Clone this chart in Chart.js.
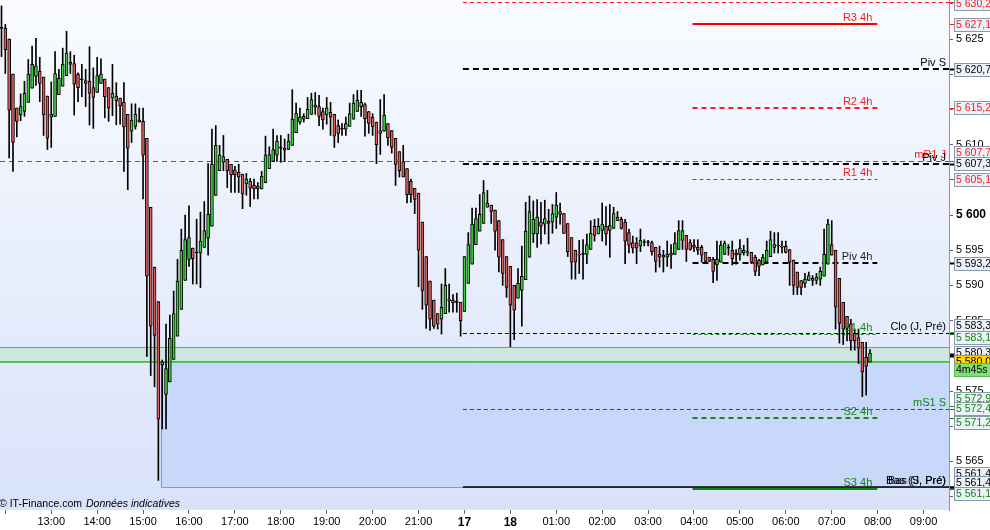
<!DOCTYPE html>
<html>
<head>
<meta charset="utf-8">
<script src="https://cdn.jsdelivr.net/npm/chart.js@4.4.1/dist/chart.umd.min.js"></script>
<style>
html, body { margin: 0; padding: 0; background: #fff; }
#wrap { width: 990px; height: 530px; position: relative; }
</style>
</head>
<body>
<div id="wrap"><canvas id="chartBougies"></canvas></div>
<script>
// bougies 5 minutes
const openP = [5626.5,5626.5,5625.0,5620.0,5615.2,5614.2,5614.7,5616.0,5618.0,5619.7,5620.4,5619.6,5616.9,5613.9,5614.0,5617.1,5618.3,5619.8,5621.7,5621.5,
5620.0,5619.2,5619.1,5619.0,5618.1,5617.4,5618.7,5619.3,5618.1,5616.6,5616.9,5616.6,5616.0,5614.3,5611.9,5612.6,5613.5,5613.3,5610.9,5601.1,
5592.6,5587.7,5578.7,5574.5,5576.3,5579.5,5582.8,5586.6,5590.7,5593.7,5595.3,5594.6,5594.6,5595.4,5596.7,5598.4,5602.8,5606.3,5607.5,5607.9,
5607.2,5606.4,5606.1,5605.8,5604.4,5604.8,5604.2,5604.1,5603.7,5604.6,5606.6,5607.6,5608.5,5609.5,5609.5,5609.3,5609.9,5611.7,5613.2,5613.6,
5613.7,5614.3,5615.3,5615.4,5614.7,5614.2,5614.6,5614.3,5612.7,5612.2,5612.2,5612.6,5613.6,5614.7,5615.4,5615.7,5614.7,5613.9,5613.2,5611.6,
5611.9,5613.0,5612.0,5610.9,5609.0,5607.6,5606.6,5604.8,5603.8,5603.1,5599.0,5594.1,5590.6,5587.9,5586.0,5585.2,5586.0,5588.0,5587.9,5587.6,
5587.6,5586.3,5590.3,5593.0,5595.8,5597.7,5598.8,5601.1,5601.4,5600.7,5599.2,5596.5,5594.1,5592.7,5590.0,5588.2,5589.3,5590.8,5594.0,5597.3,
5597.3,5599.0,5598.7,5599.1,5599.0,5599.7,5600.5,5600.2,5598.8,5596.8,5595.0,5594.4,5594.4,5594.4,5595.1,5598.4,5597.3,5597.8,5598.4,5597.8,
5598.1,5599.7,5599.4,5599.0,5597.5,5596.1,5596.0,5595.6,5596.1,5596.1,5596.1,5595.4,5594.4,5594.3,5594.0,5594.3,5594.4,5595.1,5596.4,5597.1,
5596.1,5595.7,5595.4,5595.4,5594.7,5594.0,5593.7,5592.9,5593.3,5594.4,5595.3,5595.0,5594.6,5594.4,5594.6,5594.6,5594.7,5594.0,5593.6,5592.9,
5593.3,5594.1,5595.4,5595.7,5595.6,5595.6,5595.1,5593.6,5591.9,5590.7,5590.3,5590.7,5591.0,5590.7,5590.9,5591.3,5593.0,5595.8,5595.0,5591.0,
5587.6,5585.6,5584.5,5583.2,5582.6,5581.9,5579.8,5579.1];
const highP = [5629.7,5627.1,5625.0,5620.0,5615.2,5617.2,5619.0,5622.1,5624.0,5625.1,5622.4,5619.6,5616.9,5618.9,5623.2,5620.7,5623.7,5626.1,5623.2,5622.7,
5620.2,5621.4,5620.7,5623.9,5620.9,5622.4,5622.2,5619.3,5618.1,5621.4,5618.8,5616.6,5618.8,5614.3,5615.8,5615.8,5615.2,5615.2,5610.9,5601.1,
5592.6,5587.7,5579.4,5584.5,5585.8,5589.2,5593.7,5598.0,5600.0,5601.3,5595.3,5599.4,5600.4,5601.9,5607.3,5612.2,5612.7,5609.9,5611.3,5607.9,
5607.2,5606.9,5607.2,5605.8,5605.9,5605.2,5605.1,5604.6,5606.2,5611.2,5609.7,5612.2,5611.3,5611.3,5610.8,5611.5,5617.8,5615.9,5615.2,5614.4,
5616.7,5617.3,5617.4,5617.0,5615.2,5616.7,5616.0,5614.3,5613.5,5613.0,5613.9,5615.9,5617.1,5617.7,5617.7,5615.9,5614.7,5614.4,5613.2,5616.4,
5617.1,5613.0,5612.0,5610.9,5609.0,5609.9,5606.6,5605.1,5603.8,5603.1,5599.0,5594.1,5590.6,5587.9,5586.0,5590.2,5592.4,5590.2,5588.7,5588.9,
5587.6,5594.1,5597.5,5601.0,5601.0,5602.9,5604.9,5603.5,5601.4,5600.7,5599.2,5596.5,5594.1,5592.7,5590.0,5592.4,5595.6,5601.8,5602.7,5602.0,
5602.2,5601.8,5602.1,5600.8,5601.5,5603.2,5601.7,5600.2,5598.8,5596.8,5595.0,5596.4,5596.5,5597.3,5599.2,5599.4,5599.5,5601.7,5601.2,5601.5,
5601.1,5600.5,5599.7,5599.4,5598.0,5597.0,5596.8,5598.0,5596.5,5596.4,5596.3,5595.4,5595.6,5595.0,5596.3,5595.8,5597.5,5599.2,5599.2,5597.1,
5596.5,5596.5,5596.5,5595.7,5594.7,5594.0,5594.0,5596.3,5596.3,5596.3,5595.8,5596.3,5595.1,5596.5,5595.7,5596.7,5594.7,5594.3,5593.7,5594.4,
5596.3,5597.7,5597.5,5597.5,5596.3,5596.3,5595.1,5593.6,5591.9,5590.7,5591.7,5591.9,5591.4,5591.7,5592.6,5598.0,5599.4,5599.2,5595.0,5591.0,
5587.6,5585.6,5585.2,5583.8,5583.8,5581.9,5581.9,5580.9];
const lowP = [5622.5,5620.1,5608.1,5606.2,5611.1,5613.4,5614.0,5616.0,5618.0,5618.4,5616.1,5611.3,5609.3,5609.6,5614.0,5617.1,5618.3,5619.8,5620.1,5614.2,
5616.1,5616.8,5615.4,5612.8,5612.3,5617.4,5618.7,5613.8,5613.3,5614.1,5612.8,5612.9,5606.2,5603.6,5610.3,5612.2,5613.2,5602.3,5579.9,5577.2,
5575.6,5562.3,5569.6,5569.6,5576.3,5579.5,5582.8,5586.6,5590.7,5592.7,5590.2,5590.2,5589.7,5595.4,5594.3,5598.4,5602.8,5606.3,5606.3,5603.9,
5603.2,5603.2,5603.2,5600.9,5602.8,5601.2,5602.3,5602.3,5603.7,5604.6,5606.6,5607.6,5607.6,5607.5,5607.6,5609.3,5609.9,5611.7,5612.9,5613.2,
5613.7,5614.3,5614.3,5612.7,5612.2,5612.9,5611.3,5609.6,5610.3,5611.3,5611.3,5612.6,5613.6,5614.7,5614.0,5611.2,5611.6,5611.3,5607.3,5608.6,
5611.9,5609.9,5608.8,5604.2,5605.4,5605.4,5601.7,5601.8,5600.2,5589.8,5586.6,5583.9,5583.6,5583.9,5583.8,5583.1,5586.0,5586.2,5586.2,5586.2,
5582.8,5586.3,5590.3,5593.0,5595.8,5597.7,5598.8,5601.1,5598.8,5595.0,5591.9,5590.0,5588.3,5581.3,5582.3,5588.2,5584.2,5590.8,5594.0,5596.1,
5595.4,5595.9,5597.3,5595.9,5597.4,5598.1,5598.7,5597.4,5594.1,5590.9,5590.9,5591.7,5590.9,5593.1,5595.1,5596.3,5597.3,5596.3,5595.7,5594.0,
5598.1,5599.2,5598.0,5593.1,5594.6,5594.6,5593.1,5594.8,5595.6,5595.6,5594.3,5591.9,5592.6,5591.9,5592.7,5592.4,5594.4,5595.1,5595.1,5593.4,
5595.0,5594.8,5594.4,5593.3,5593.1,5593.4,5590.4,5590.7,5593.3,5594.4,5594.3,5592.9,5593.0,5593.6,5594.3,5594.2,5593.1,5591.4,5591.4,5592.9,
5593.3,5594.1,5594.6,5594.6,5594.6,5594.6,5590.0,5588.7,5588.7,5588.7,5589.7,5590.7,5590.0,5590.2,5590.0,5591.3,5593.0,5594.3,5583.8,5581.8,
5581.6,5582.1,5580.8,5580.8,5578.9,5574.2,5574.4,5579.1];
const closeP = [5626.5,5623.5,5614.9,5610.3,5613.3,5615.4,5617.3,5620.0,5621.4,5621.2,5618.7,5614.2,5610.9,5614.3,5620.1,5619.4,5621.4,5623.0,5621.4,5618.6,
5618.1,5619.2,5618.7,5617.3,5616.7,5619.8,5620.0,5616.8,5615.2,5617.3,5616.2,5615.5,5612.5,5609.5,5613.5,5614.3,5613.2,5608.5,5591.3,5584.2,
5582.9,5571.0,5579.1,5578.2,5582.5,5586.0,5590.6,5595.0,5596.5,5596.8,5593.8,5594.6,5596.3,5597.8,5600.1,5607.2,5609.9,5608.5,5608.3,5606.3,
5605.7,5605.7,5605.4,5603.0,5605.1,5603.8,5603.7,5603.7,5605.5,5608.5,5608.6,5609.3,5610.5,5609.5,5609.2,5610.5,5613.6,5614.4,5613.9,5614.0,
5615.0,5616.4,5615.6,5614.0,5613.5,5615.2,5613.9,5611.2,5611.6,5612.2,5613.0,5614.4,5615.9,5616.3,5616.0,5613.7,5613.0,5612.5,5610.0,5612.0,
5614.2,5611.0,5609.6,5607.2,5606.3,5605.4,5602.9,5602.9,5602.2,5595.0,5589.3,5587.2,5585.2,5584.2,5584.5,5586.9,5590.0,5587.8,5587.5,5587.6,
5585.0,5594.1,5595.8,5598.7,5599.5,5600.1,5603.2,5601.7,5600.5,5597.7,5594.0,5591.7,5589.7,5587.2,5586.5,5590.3,5591.3,5597.7,5600.5,5599.4,
5599.7,5598.4,5599.5,5598.8,5600.2,5601.4,5600.1,5597.4,5594.8,5593.3,5593.3,5594.3,5594.4,5595.8,5597.4,5597.1,5598.4,5598.7,5597.3,5598.5,
5600.2,5599.2,5598.1,5596.3,5595.7,5595.3,5595.3,5596.4,5596.1,5596.1,5594.8,5593.4,5594.0,5594.0,5594.4,5594.6,5596.0,5597.8,5597.8,5595.1,
5595.1,5595.4,5595.0,5594.3,5593.4,5593.4,5592.0,5593.7,5595.7,5596.0,5595.3,5593.8,5594.3,5595.3,5595.0,5594.8,5593.3,5592.0,5592.7,5594.0,
5595.0,5596.5,5595.8,5595.6,5595.4,5594.7,5593.3,5590.0,5589.7,5589.7,5590.9,5591.4,5590.7,5591.2,5592.0,5594.4,5598.7,5594.3,5586.9,5584.6,
5583.8,5583.9,5582.1,5582.1,5581.1,5577.7,5578.5,5580.4];

// axe du temps : position (n° de bougie) des graduations horaires
const hourTickIdx = [1,13,25,37,49,61,73,85,97,109,121,133,145,157,169,181,193,205,217,229,241];
const hourLabels = ["","13:00","14:00","15:00","16:00","17:00","18:00","19:00","20:00","21:00","17","18",
                    "01:00","02:00","03:00","04:00","05:00","06:00","07:00","08:00","09:00"];

// niveaux (pivots, supports, résistances)
const levelNames  = ["","R3 4h","Piv S","R2 4h","mR1 J","Piv J","R1 4h","Piv 4h","Clo (J, Pré)","S1 4h","mS1 S","S2 4h","Bas (J, Pré)","S3 4h"];
const levelValues = [5630.2,5627.1,5620.7,5615.2,5607.7,5607.3,5605.1,5593.2,5583.3,5583.1,5572.4,5571.2,5561.4,5561.1];
const levelSpans  = ["J","4h","J","4h","all","J","4h","4h","J","4h","J","4h","J","4h"];

// zone verte et zone bleue
const bandHigh = 5581.2, bandLow = 5579.3;
const zoneHigh = 5579.3, zoneLow = 5561.4, zoneStartIdx = 41.6;

// étiquettes de l'axe de droite
const boxTexts  = ["5 630,2","5 627,1","5 620,7","5 615,2","5 607,7","5 607,3","5 605,1","5 593,2","5 583,3","5 583,1",
                   "5 580,3","5 580,0","4m45s","5 572,9","5 572,4","5 571,2","5 561,4","5 561,4","5 561,1"];
const boxLevels = [5630.2,5627.1,5620.7,5615.2,5607.7,5607.3,5605.1,5593.2,5583.3,5583.1,
                   5580.3,5580.0,5580.0,5572.9,5572.4,5571.2,5561.4,5561.4,5561.1];

// mise en forme (hors données)
const RED = "#ff1a1a", GREEN = "#0b8a0b", BLACK = "#000";
const levelStyles = [
    { color: RED, width: 1, dash: [4, 3], text: RED },
    { color: "#ff0000", width: 2, dash: [], text: RED },
    { color: BLACK, width: 2, dash: [6, 4], text: BLACK },
    { color: RED, width: 2, dash: [5, 4], text: RED },
    { color: "#e02020", width: 1, dash: [5, 4], text: RED },
    { color: BLACK, width: 2, dash: [6, 4], text: BLACK },
    { color: RED, width: 1, dash: [4, 3], text: RED },
    { color: BLACK, width: 2, dash: [6, 4], text: "#1a1a2a" },
    { color: BLACK, width: 1, dash: [4, 3], text: BLACK },
    { color: GREEN, width: 1, dash: [3, 3], text: GREEN },
    { color: "#444", width: 1, dash: [4, 3], text: GREEN },
    { color: GREEN, width: 2, dash: [5, 4], text: GREEN },
    { color: BLACK, width: 1.5, dash: [], text: BLACK },
    { color: GREEN, width: 2, dash: [], text: GREEN },
];
const boxShift = [1.6, 1, 0.7, 0, -7.5, 0, 1, 1, -6.7, 4, -1, 6, 14, -7, 0, 5, -13, -4, 5];
const boxTextColor = [RED, RED, BLACK, RED, RED, BLACK, RED, BLACK, BLACK, GREEN, BLACK, BLACK, BLACK, GREEN, GREEN, GREEN, BLACK, BLACK, GREEN];
const boxFill = (t, i) => (i === 11 ? "#ffd500" : t === "4m45s" ? "#84de78" : "#edf1f8");

const FONT = "'Liberation Sans', Arial, sans-serif";
const spanStart = { J: 120.6, "4h": 180.6, all: -5 };
const spanEnd = { J: 999, "4h": 228.9, all: 999 };

const bodies = closeP.map((c, i) => ({ x: i, y: [openP[i], c] }));
const wicks = closeP.map((c, i) => ({ x: i, y: [lowP[i], highP[i]] }));
const bodyColors = closeP.map((c, i) => (c > openP[i] ? "#3cd23c" : c < openP[i] ? "#e05c5c" : "#000"));

function fmtPrix(v) {
    const mille = Math.floor(v / 1000);
    return mille + " " + String(Math.round(v - mille * 1000)).padStart(3, "0");
}

const decorPlugin = {
    id: "decor",
    beforeDraw(chart) {
        const { ctx, chartArea: a } = chart;
        ctx.save();
        ctx.fillStyle = "#fff";
        ctx.fillRect(0, 0, chart.width, chart.height);
        const g = ctx.createLinearGradient(0, a.top, 0, a.bottom);
        g.addColorStop(0, "#f9fbff");
        g.addColorStop(1, "#d8e2f9");
        ctx.fillStyle = g;
        ctx.fillRect(a.left, a.top, a.right - a.left, a.bottom - a.top);
        ctx.restore();
    },
    beforeDatasetsDraw(chart) {
        const { ctx, chartArea: a, scales } = chart;
        const y = (v) => scales.y.getPixelForValue(v);
        const x = (i) => Math.max(a.left, Math.min(a.right, scales.x.getPixelForValue(i)));
        ctx.save();
        ctx.beginPath();
        ctx.rect(a.left, a.top, a.right - a.left, a.bottom - a.top);
        ctx.clip();

        // bande verte
        ctx.fillStyle = "#cbe7de";
        ctx.fillRect(a.left, y(bandHigh), a.right - a.left, y(bandLow) - y(bandHigh));
        ctx.lineWidth = 1;
        ctx.strokeStyle = "#e06a6a";
        ctx.beginPath();
        ctx.moveTo(a.left, Math.round(y(bandHigh)) + 0.5);
        ctx.lineTo(a.right, Math.round(y(bandHigh)) + 0.5);
        ctx.stroke();

        // zone bleue
        const zx = x(zoneStartIdx);
        ctx.fillStyle = "#c7d8fb";
        ctx.fillRect(zx, y(zoneHigh), a.right - zx, y(zoneLow) - y(zoneHigh));
        ctx.strokeStyle = "#6b9af0";
        ctx.strokeRect(Math.round(zx) + 0.5, Math.round(y(zoneHigh)) + 0.5, a.right - zx, Math.round(y(zoneLow) - y(zoneHigh)));
        ctx.strokeStyle = "#5fc85f";
        ctx.beginPath();
        ctx.moveTo(a.left, Math.round(y(bandLow)) + 1.5);
        ctx.lineTo(a.right, Math.round(y(bandLow)) + 1.5);
        ctx.stroke();
        ctx.strokeStyle = "#5b8ff0";
        ctx.beginPath();
        ctx.moveTo(a.left, Math.round(y(bandLow)) + 0.5);
        ctx.lineTo(a.right, Math.round(y(bandLow)) + 0.5);
        ctx.stroke();

        // niveaux
        levelValues.forEach((v, k) => {
            const st = levelStyles[k];
            const py = st.width === 1 ? Math.round(y(v)) + 0.5 : Math.round(y(v));
            ctx.strokeStyle = st.color;
            ctx.lineWidth = st.width;
            ctx.setLineDash(st.dash);
            ctx.beginPath();
            ctx.moveTo(x(spanStart[levelSpans[k]]), py);
            ctx.lineTo(x(spanEnd[levelSpans[k]]), py);
            ctx.stroke();
        });
        ctx.restore();
    },
    afterDatasetsDraw(chart) {
        const { ctx, chartArea: a, scales } = chart;
        const y = (v) => scales.y.getPixelForValue(v);
        const x = (i) => Math.max(a.left, Math.min(a.right, scales.x.getPixelForValue(i)));
        ctx.save();
        ctx.font = "11px " + FONT;
        ctx.textAlign = "right";
        ctx.textBaseline = "alphabetic";
        levelValues.forEach((v, k) => {
            if (!levelNames[k]) return;
            const xr = levelSpans[k] === "4h" ? x(spanEnd["4h"]) - 5 : a.right - 3;
            ctx.fillStyle = levelStyles[k].text;
            ctx.fillText(levelNames[k], xr, y(v) - 3);
        });
        // texte superposé du graphique d'origine
        ctx.fillStyle = BLACK;
        ctx.fillText("Bas (S, Pré)", a.right - 3, y(5561.4) - 3);

        // pied de graphique
        ctx.textAlign = "left";
        ctx.fillStyle = "#000";
        ctx.font = "10.5px " + FONT;
        ctx.fillText("© IT-Finance.com", -1, a.bottom - 3);
        ctx.font = "italic 10.5px " + FONT;
        ctx.fillText("Données indicatives", 86, a.bottom - 3);
        ctx.restore();
    },
    afterDraw(chart) {
        const { ctx, chartArea: a, scales } = chart;
        const y = (v) => scales.y.getPixelForValue(v);
        ctx.save();
        ctx.font = "10.5px " + FONT;
        ctx.textBaseline = "middle";
        ctx.textAlign = "left";
        boxTexts.forEach((t, i) => {
            const ly = y(boxLevels[i]);
            const cy = Math.round(ly + boxShift[i]);
            if (t !== "4m45s") {
                ctx.strokeStyle = boxTextColor[i];
                ctx.lineWidth = boxTextColor[i] === BLACK ? 2 : 1;
                ctx.beginPath();
                ctx.moveTo(a.right + 1, Math.round(ly) + 0.5);
                ctx.lineTo(a.right + 6, Math.round(ly) + 0.5);
                ctx.stroke();
            }
            ctx.fillStyle = boxFill(t, i);
            ctx.fillRect(a.right + 5, cy - 7, 50, 14);
            ctx.lineWidth = 1;
            ctx.strokeStyle = t === "4m45s" ? "#5cb85c" : "#8a98ab";
            ctx.strokeRect(a.right + 5.5, cy - 6.5, 50, 13);
            ctx.fillStyle = t === "4m45s" ? BLACK : boxTextColor[i];
            ctx.fillText(t, a.right + 7, cy + 0.5);
        });
        ctx.restore();
    },
};

const ctxBougies = document.getElementById("chartBougies");

const configBougies = {
    type: "bar",
    data: {
        datasets: [
            {
                label: "corps",
                data: bodies,
                backgroundColor: bodyColors,
                borderColor: "#000",
                borderWidth: 1,
                borderSkipped: false,
                barThickness: 3,
                minBarLength: 1,
                grouped: false,
                order: 0,
            },
            {
                label: "mèches",
                data: wicks,
                backgroundColor: "#000",
                borderWidth: 0,
                barThickness: 1,
                grouped: false,
                order: 1,
            },
        ],
    },
    options: {
        responsive: true,
        maintainAspectRatio: false,
        animation: false,
        events: [],
        layout: { padding: 0 },
        plugins: { legend: { display: false }, tooltip: { enabled: false } },
        scales: {
            x: {
                type: "linear",
                offset: false,
                min: -0.392,
                max: 247.65,
                afterBuildTicks: (scale) => {
                    scale.ticks = hourTickIdx.map((v) => ({ value: v }));
                },
                afterFit: (scale) => {
                    scale.height = 20;
                    scale.paddingLeft = 0;
                    scale.paddingRight = 0;
                },
                border: { display: false },
                grid: { drawOnChartArea: false, offset: false, tickLength: 4, color: "#666" },
                ticks: {
                    autoSkip: false,
                    maxRotation: 0,
                    padding: 1,
                    color: "#000",
                    callback: (v, i) => hourLabels[i],
                    font: (c) => {
                        const l = c.tick ? hourLabels[hourTickIdx.indexOf(c.tick.value)] : "";
                        const gras = l === "17" || l === "18";
                        return { family: FONT, size: gras ? 12 : 11, weight: gras ? "bold" : "normal" };
                    },
                },
            },
            y: {
                type: "linear",
                position: "right",
                min: 5558.1,
                max: 5630.54,
                afterFit: (scale) => {
                    scale.width = 41;
                    scale.paddingTop = 0;
                    scale.paddingBottom = 0;
                },
                border: { display: true, color: "#8a96a8" },
                grid: { drawOnChartArea: false, tickLength: 4, color: "#666" },
                ticks: {
                    stepSize: 5,
                    includeBounds: false,
                    padding: 3,
                    color: "#000",
                    callback: (v) => fmtPrix(v),
                    font: (c) => {
                        const gras = c.tick && c.tick.value === 5600;
                        return { family: FONT, size: gras ? 12 : 11, weight: gras ? "bold" : "normal" };
                    },
                },
            },
        },
    },
    plugins: [decorPlugin],
};

new Chart(ctxBougies, configBougies);
</script>
</body>
</html>
